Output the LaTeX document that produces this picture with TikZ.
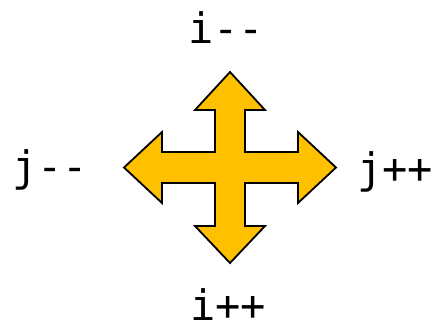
\documentclass[tikz,border=0pt]{standalone}
\usepackage{fontspec}
\setmonofont{DejaVu Sans Mono}
\definecolor{gold}{HTML}{FFC000}
\begin{document}
\begin{tikzpicture}[x=1pt,y=-1pt,
  lbl/.style={font=\ttfamily\fontsize{42}{42}\selectfont, inner sep=0pt, anchor=base, text depth=0pt},
  arrowshape/.style={fill=gold, draw=black, line width=1.8pt, line join=miter}]
\useasboundingbox (0,0) rectangle (443,325);
\draw[arrowshape] (230,72) -- (265,110) -- (245,110) -- (245,152) -- (298,152) -- (298,132)
  -- (336,167.5) -- (298,203) -- (298,183) -- (245,183) -- (245,226) -- (265,226)
  -- (230,263) -- (195,226) -- (215,226) -- (215,183) -- (162,183) -- (162,203)
  -- (124,167.5) -- (162,132) -- (162,152) -- (215,152) -- (215,110) -- (195,110) -- cycle;
\node[lbl] (top) at (226,43) {i--};
\node[lbl] (left) at (50,181) {j--};
\node[lbl] (right) at (395,183) {j++};
\node[lbl] (bottom) at (228,320) {i++};
\end{tikzpicture}
\end{document}
